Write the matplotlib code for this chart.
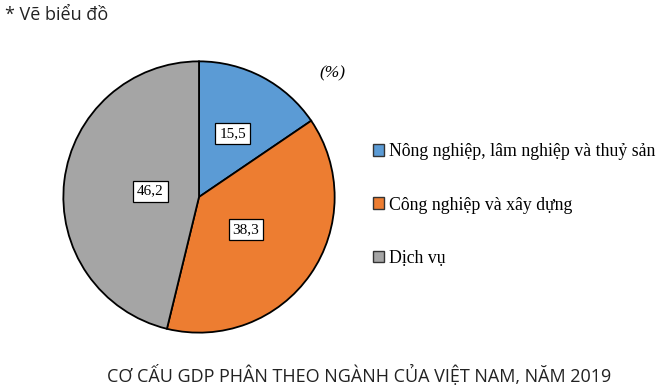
import numpy as np
import matplotlib.pyplot as plt
from matplotlib.patches import Patch

# GDP structure by sector, Viet Nam 2019 (%)
sectors = ["Nông nghiệp, lâm nghiệp và thuỷ sản", "Công nghiệp và xây dựng", "Dịch vụ"]
shares = [15.5, 38.3, 46.2]
colors = ["#5B9BD5", "#ED7D31", "#A5A5A5"]
# label radius per wedge (Excel places them by hand)
label_r = [0.53, 0.42, 0.36]

W, H = 661, 392
fig = plt.figure(figsize=(W / 100, H / 100), dpi=100)

# pie axes placed in pixels: left 62, right 336, top 60, bottom 333
ax = fig.add_axes([62 / W, (H - 334) / H, 274 / W, 274 / H])
wedges, texts = ax.pie(
    shares,
    colors=colors,
    startangle=90,
    counterclock=False,
    radius=1,
    wedgeprops=dict(edgecolor="black", linewidth=1.3),
    labels=[f"{v:.1f}".replace(".", ",") for v in shares],
    labeldistance=0.5,
    textprops=dict(family="Liberation Serif", fontsize=11),
)
for t, w, r in zip(texts, wedges, label_r):
    ang = np.deg2rad((w.theta1 + w.theta2) / 2)
    t.set_position((r * np.cos(ang), r * np.sin(ang)))
    t.set_ha("center")
    t.set_va("center")
    t.set_bbox(dict(boxstyle="square,pad=0.25", fc="white", ec="black", lw=0.9))
ax.set_xlim(-1.01, 1.01)
ax.set_ylim(-1.01, 1.01)

fig.text(5 / W, 1 - 15 / H, "* Vẽ biểu đồ", family="Open Sans", fontsize=13,
         ha="left", va="center", color="#222222")
fig.text(332 / W, 1 - 73 / H, "(%)", family="Liberation Serif", style="italic",
         fontsize=12.5, ha="center", va="center")

handles = [Patch(facecolor=c, edgecolor="#333333", lw=1.0) for c in colors]
fig.legend(handles, sectors, loc="center left",
           bbox_to_anchor=(366 / W, 1 - 205 / H), frameon=False,
           prop=dict(family="Liberation Serif", size=12.8),
           handlelength=0.62, handleheight=0.62, handletextpad=0.25,
           labelspacing=2.05, borderaxespad=0)

fig.text(359 / W, 1 - 375 / H, "CƠ CẤU GDP PHÂN THEO NGÀNH CỦA VIỆT NAM, NĂM 2019",
         family="Open Sans", fontsize=13, ha="center", va="center", color="#222222")

fig.savefig("out.png", dpi=100)
